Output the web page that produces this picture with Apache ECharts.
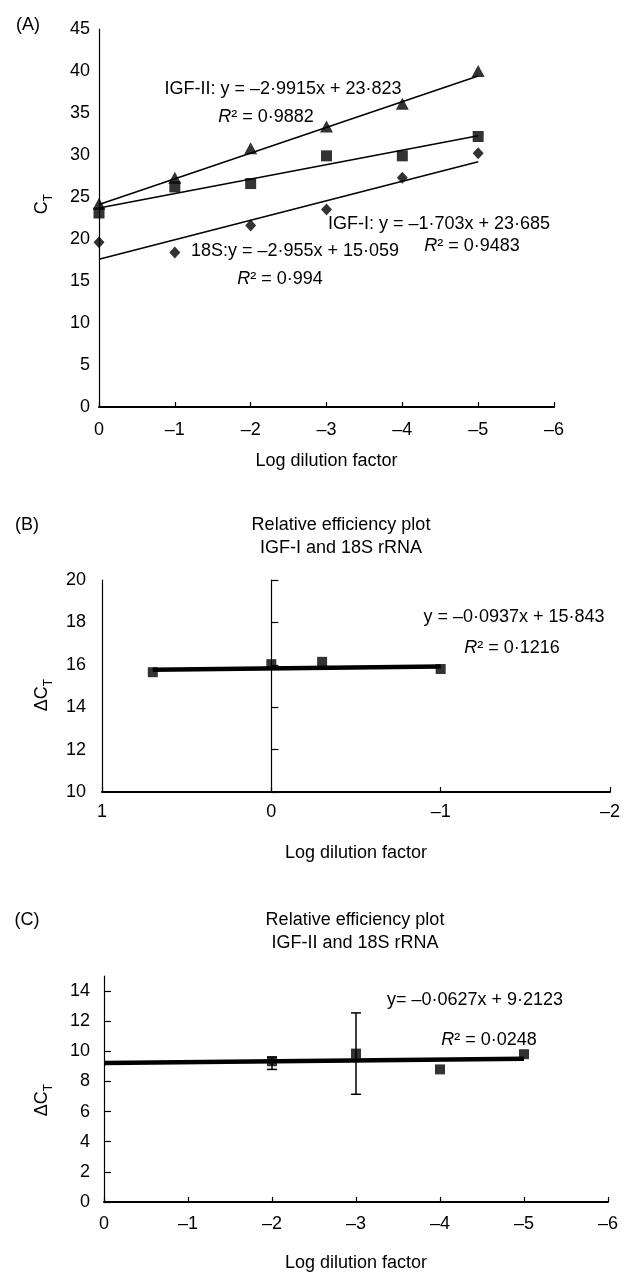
<!DOCTYPE html>
<html>
<head>
<meta charset="utf-8">
<title>qPCR standard curves</title>
<script src="https://cdn.jsdelivr.net/npm/echarts@6/dist/echarts.min.js"></script>
<style>
  html, body { margin: 0; padding: 0; background: #fff; }
  #main { width: 623px; height: 1275px; }
</style>
</head>
<body>
<div id="main"></div>
<script>
// (A) standard curves
const xA = [0, -1, -2, -3, -4, -5];
const igf2A = [24.2, 27.3, 30.8, 33.4, 36.1, 40.0];
const igf1A = [23.1, 26.2, 26.6, 29.9, 29.9, 32.2];
const s18A = [19.6, 18.4, 21.6, 23.5, 27.3, 30.2];
const trendXA = [0, -5];
const trendIgf2A = [24.1, 39.4];
const trendIgf1A = [23.7, 32.3];
const trend18sA = [17.6, 29.2];
const xTicksA = [0, -1, -2, -3, -4, -5, -6];
const yTicksA = [0, 5, 10, 15, 20, 25, 30, 35, 40, 45];

// (B) relative efficiency IGF-I / 18S
const xB = [0.7, 0, -0.3, -1];
const dctB = [15.65, 16.03, 16.14, 15.8];
const trendXB = [0.7, -1];
const trendB = [15.77, 15.92];
const xTicksB = [1, 0, -1, -2];
const yTicksB = [10, 12, 14, 16, 18, 20];

// (C) relative efficiency IGF-II / 18S
const xC = [-2, -3, -4, -5];
const dctC = [9.34, 9.85, 8.8, 9.81];
const errXC = [-2, -3];
const errLowC = [8.8, 7.15];
const errHighC = [9.62, 12.55];
const trendXC = [0, -5];
const trendC = [9.23, 9.51];
const xTicksC = [0, -1, -2, -3, -4, -5, -6];
const yTicksC = [0, 2, 4, 6, 8, 10, 12, 14];

const FONT = 'Liberation Sans, Arial, Helvetica, sans-serif';
const INK = '#000';

function pairs(xs, ys) {
  return xs.map((x, i) => [x, ys[i]]);
}
function dash(v) {
  return v < 0 ? '\u2013' + (-v) : String(v);
}

const txt = { fontFamily: FONT, fontSize: 18, color: INK };

function xAx(grid, min, max, ticks, margin, gap) {
  return {
    gridIndex: grid, type: 'value', inverse: true, min: min, max: max, interval: 1,
    axisLine: { show: true, lineStyle: { color: INK, width: 2 } },
    axisTick: { show: true, inside: true, length: 5, customValues: ticks, lineStyle: { color: INK, width: 1.2 } },
    axisLabel: Object.assign({ customValues: ticks, formatter: dash, margin: margin }, txt),
    splitLine: { show: false },
    name: 'Log dilution factor', nameLocation: 'middle', nameGap: gap,
    nameTextStyle: txt
  };
}

function text(x, y, str, extra) {
  return Object.assign({
    type: 'text', x: x, y: y,
    style: {
      text: str, fontFamily: FONT, fontSize: 18, fill: INK, lineHeight: 23,
      textAlign: 'center', textVerticalAlign: 'middle', align: 'center', verticalAlign: 'middle',
      rich: {
        i: { fontFamily: FONT, fontSize: 18, fontStyle: 'italic', fill: INK },
        c: { fontFamily: FONT, fontSize: 18, fill: INK, lineHeight: 26, verticalAlign: 'middle' },
        t: { fontFamily: FONT, fontSize: 12, fill: INK, lineHeight: 26, verticalAlign: 'bottom' }
      }
    }
  }, extra || {});
}

const chart = echarts.init(document.getElementById('main'));

chart.setOption({
  animation: false,
  backgroundColor: '#fff',
  grid: [
    { left: 99, top: 29, width: 455, height: 378 },
    { left: 102, top: 580, width: 510, height: 212 },
    { left: 104, top: 976, width: 504, height: 226 }
  ],
  xAxis: [
    xAx(0, -6, 0, xTicksA, 14, 45),
    xAx(1, -2, 1, xTicksB, 11, 52),
    xAx(2, -6, 0, xTicksC, 13, 52)
  ],
  yAxis: [
    {
      gridIndex: 0, type: 'value', min: 0, max: 45, interval: 5,
      axisLine: { show: true, lineStyle: { color: INK, width: 1.2 } },
      axisTick: { show: false },
      axisLabel: Object.assign({ customValues: yTicksA, margin: 9 }, txt),
      splitLine: { show: false }
    },
    {
      gridIndex: 1, type: 'value', min: 10, max: 20, interval: 2, position: 'left',
      axisLine: { show: true, onZero: false, lineStyle: { color: INK, width: 1.2 } },
      axisTick: { show: false },
      axisLabel: Object.assign({ customValues: yTicksB, margin: 16 }, txt),
      splitLine: { show: false }
    },
    {
      // vertical line through x = 0 with its ticks
      gridIndex: 1, type: 'value', min: 10, max: 20, interval: 2, position: 'right',
      axisLine: { show: true, onZero: true, lineStyle: { color: INK, width: 1.2 } },
      axisTick: { show: true, inside: false, length: 7, customValues: yTicksB, lineStyle: { color: INK, width: 1.2 } },
      axisLabel: { show: false },
      splitLine: { show: false }
    },
    {
      gridIndex: 2, type: 'value', min: 0, max: 15, position: 'left',
      axisLine: { show: true, lineStyle: { color: INK, width: 1.2 } },
      axisTick: { show: true, inside: true, length: 7, customValues: yTicksC, lineStyle: { color: INK, width: 1.2 } },
      axisLabel: Object.assign({ customValues: yTicksC, margin: 14 }, txt),
      splitLine: { show: false }
    }
  ],
  series: [
    // A trend lines
    { type: 'line', xAxisIndex: 0, yAxisIndex: 0, data: pairs(trendXA, trendIgf2A), symbol: 'none', lineStyle: { color: INK, width: 1.5 }, z: 2, silent: true },
    { type: 'line', xAxisIndex: 0, yAxisIndex: 0, data: pairs(trendXA, trendIgf1A), symbol: 'none', lineStyle: { color: INK, width: 1.5 }, z: 2, silent: true },
    { type: 'line', xAxisIndex: 0, yAxisIndex: 0, data: pairs(trendXA, trend18sA), symbol: 'none', lineStyle: { color: INK, width: 1.5 }, z: 2, silent: true },
    // A points
    { name: 'IGF-II', type: 'scatter', xAxisIndex: 0, yAxisIndex: 0, data: pairs(xA, igf2A), symbol: 'triangle', symbolSize: [13, 12], itemStyle: { color: INK }, z: 3 },
    { name: 'IGF-I', type: 'scatter', xAxisIndex: 0, yAxisIndex: 0, data: pairs(xA, igf1A), symbol: 'rect', symbolSize: 11, itemStyle: { color: INK }, z: 3 },
    { name: '18S', type: 'scatter', xAxisIndex: 0, yAxisIndex: 0, data: pairs(xA, s18A), symbol: 'diamond', symbolSize: [11, 12], itemStyle: { color: INK }, z: 3 },

    // B
    { type: 'line', xAxisIndex: 1, yAxisIndex: 1, data: pairs(trendXB, trendB), symbol: 'none', lineStyle: { color: INK, width: 4.5 }, z: 2, silent: true },
    { type: 'scatter', xAxisIndex: 1, yAxisIndex: 1, data: pairs(xB, dctB), symbol: 'rect', symbolSize: 10, itemStyle: { color: INK }, z: 3 },

    // C
    { type: 'line', xAxisIndex: 2, yAxisIndex: 3, data: pairs(trendXC, trendC), symbol: 'none', lineStyle: { color: INK, width: 4.5 }, z: 2, silent: true },
    { type: 'scatter', xAxisIndex: 2, yAxisIndex: 3, data: pairs(xC, dctC), symbol: 'rect', symbolSize: 10, itemStyle: { color: INK }, z: 3 },
    {
      type: 'custom', xAxisIndex: 2, yAxisIndex: 3, z: 4, silent: true,
      data: errXC.map((x, i) => [x, errLowC[i], errHighC[i]]),
      encode: { x: 0, y: [1, 2] },
      renderItem: function (params, api) {
        const lo = api.coord([api.value(0), api.value(1)]);
        const hi = api.coord([api.value(0), api.value(2)]);
        const w = 5;
        const st = { stroke: INK, lineWidth: 1.5 };
        return {
          type: 'group',
          children: [
            { type: 'line', shape: { x1: lo[0], y1: lo[1], x2: hi[0], y2: hi[1] }, style: st },
            { type: 'line', shape: { x1: lo[0] - w, y1: lo[1], x2: lo[0] + w, y2: lo[1] }, style: st },
            { type: 'line', shape: { x1: hi[0] - w, y1: hi[1], x2: hi[0] + w, y2: hi[1] }, style: st }
          ]
        };
      }
    }
  ],
  graphic: [
    text(28, 25, '(A)'),
    text(27, 525, '(B)'),
    text(27, 920, '(C)'),

    text(42, 204, '{c|C}{t|T}', { rotation: Math.PI / 2 }),
    text(42, 695, '{c|\u0394C}{t|T}', { rotation: Math.PI / 2 }),
    text(42, 1100, '{c|\u0394C}{t|T}', { rotation: Math.PI / 2 }),

    text(283, 89, 'IGF-II: y = \u20132\u00b79915x + 23\u00b7823'),
    text(266, 117, '{i|R}\u00b2 = 0\u00b79882'),
    text(439, 224, 'IGF-I: y = \u20131\u00b7703x + 23\u00b7685'),
    text(472, 246, '{i|R}\u00b2 = 0\u00b79483'),
    text(295, 251, '18S:y = \u20132\u00b7955x + 15\u00b7059'),
    text(280, 279, '{i|R}\u00b2 = 0\u00b7994'),

    text(341, 536.5, 'Relative efficiency plot\nIGF-I and 18S rRNA'),
    text(514, 617, 'y = \u20130\u00b70937x + 15\u00b7843'),
    text(512, 648, '{i|R}\u00b2 = 0\u00b71216'),

    text(355, 931.5, 'Relative efficiency plot\nIGF-II and 18S rRNA'),
    text(475, 1000, 'y= \u20130\u00b70627x + 9\u00b72123'),
    text(489, 1040, '{i|R}\u00b2 = 0\u00b70248')
  ]
});
</script>
</body>
</html>
